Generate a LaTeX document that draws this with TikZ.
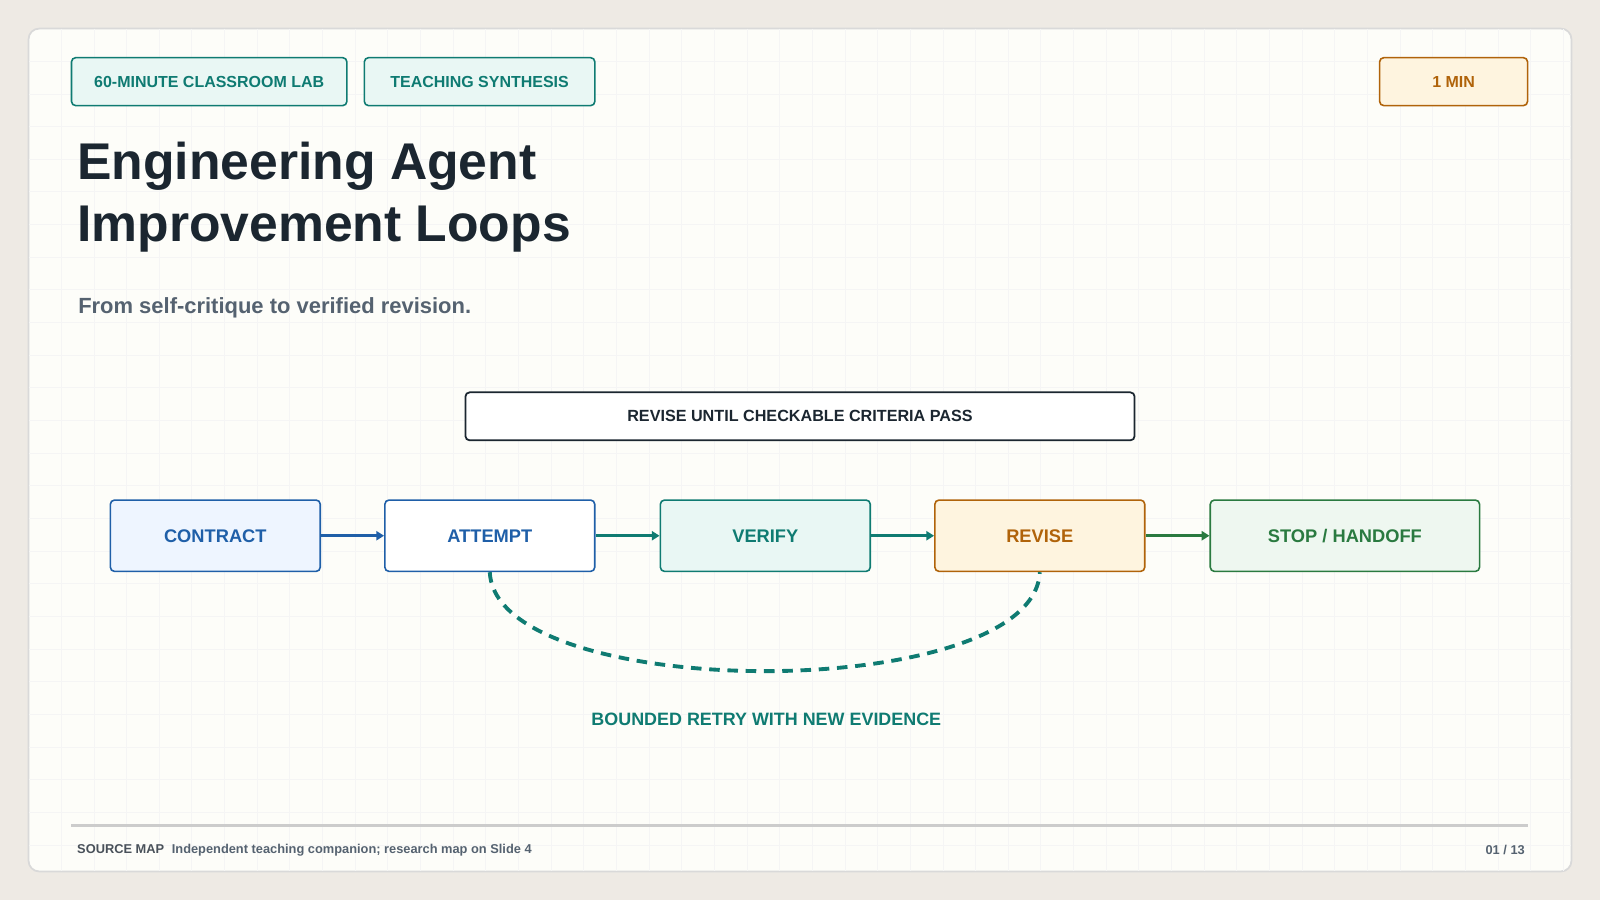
\documentclass[tikz,border=0pt]{standalone}
\usepackage{fontspec}
\setmainfont{Liberation Sans}
\usetikzlibrary{positioning,arrows.meta}
\definecolor{paper}{HTML}{EEEAE4}
\definecolor{card}{HTML}{FDFDF9}
\definecolor{ink}{HTML}{1B2630}
\definecolor{subink}{HTML}{556270}
\definecolor{teal}{HTML}{0F7B72}
\definecolor{tealbg}{HTML}{E9F7F4}
\definecolor{blue}{HTML}{1F5FA8}
\definecolor{bluebg}{HTML}{EEF5FF}
\definecolor{orange}{HTML}{B0630A}
\definecolor{orangebg}{HTML}{FEF4DF}
\definecolor{green}{HTML}{2A7A40}
\definecolor{greenbg}{HTML}{EEF7F0}
\tikzset{
  tag/.style={draw=#1, line width=0.45pt, rounded corners=1.2pt, minimum height=0.48cm, font=\fontsize{4.55}{5}\selectfont\bfseries, text=#1},
  step/.style={draw=#1, line width=0.45pt, rounded corners=1.2pt, minimum width=2.1cm, minimum height=0.714cm, font=\fontsize{5.2}{6}\selectfont\bfseries, text=#1},
  flow/.style={-{Triangle[length=2.2pt,width=2.6pt]}, line width=0.9pt, draw=#1},
}
\begin{document}
\begin{tikzpicture}[x=0.010204cm, y=-0.010204cm]
  \useasboundingbox (0,0) rectangle (1568,882);
  \fill[paper] (0,0) rectangle (1568,882);
  \filldraw[fill=card, draw=black!15, line width=0.5pt, rounded corners=3pt] (28,28) rectangle (1540,854);
  % grid
  \begin{scope}
    \clip[rounded corners=3pt] (28,28) rectangle (1540,854);
    \foreach \gx in {60,92,...,1540} \draw[black!4, line width=0.2pt] (\gx,28) -- (\gx,854);
    \foreach \gy in {60,92,...,854} \draw[black!4, line width=0.2pt] (28,\gy) -- (1540,\gy);
  \end{scope}

  % tags
  \node[tag=teal, fill=tealbg, minimum width=2.755cm] (lab) at (205,80) {60-MINUTE CLASSROOM LAB};
  \node[tag=teal, fill=tealbg, minimum width=2.306cm] (synth) at (470,80) {TEACHING SYNTHESIS};
  \node[tag=orange, fill=orangebg, minimum width=1.48cm] (time) at (1424.5,80) {1 MIN};

  % title
  \node[anchor=north west, align=left, text=ink, font=\fontsize{14.7}{17.4}\selectfont\bfseries, inner sep=0pt] (title) at (75,139) {Engineering Agent\\Improvement Loops};
  \node[anchor=west, text=subink, font=\fontsize{6.25}{7}\selectfont\bfseries, inner sep=0pt] (sub) at (76,302) {From self-critique to verified revision.};

  % banner
  \node[draw=ink, fill=white, line width=0.5pt, rounded corners=1.2pt, minimum width=6.694cm, minimum height=0.48cm, font=\fontsize{4.6}{5}\selectfont\bfseries, text=ink] (goal) at (784,408) {REVISE UNTIL CHECKABLE CRITERIA PASS};

  % steps
  \node[step=blue, fill=bluebg] (contract) at (211,525) {CONTRACT};
  \node[step=blue, fill=white] (attempt) at (480,525) {ATTEMPT};
  \node[step=teal, fill=tealbg] (verify) at (750,525) {VERIFY};
  \node[step=orange, fill=orangebg] (revise) at (1019,525) {REVISE};
  \node[step=green, fill=greenbg, minimum width=2.694cm] (stop) at (1318,525) {STOP / HANDOFF};

  \draw[flow=blue] (contract) -- (attempt);
  \draw[flow=teal] (attempt) -- (verify);
  \draw[flow=teal] (verify) -- (revise);
  \draw[flow=green] (revise) -- (stop);

  % retry loop
  \draw[teal, line width=1.1pt, dash pattern=on 3pt off 2.2pt] (attempt.south) .. controls (486,690) and (1013,690) .. (revise.south);
  \node[text=teal, font=\fontsize{5.1}{6}\selectfont\bfseries] (retry) at (751,705) {BOUNDED RETRY WITH NEW EVIDENCE};

  % footer
  \coordinate (fl) at (70,809);
  \coordinate (fr) at (1497,809);
  \draw[black!20, line width=0.6pt] (fl) -- (fr);
  \node[anchor=west, inner sep=0pt, font=\fontsize{3.65}{4}\selectfont\bfseries, text=subink] (src) at (75,833) {\textcolor{ink!80}{SOURCE MAP}\hspace{0.6em}Independent teaching companion; research map on Slide 4};
  \node[anchor=east, inner sep=0pt, font=\fontsize{3.65}{4}\selectfont\bfseries, text=subink] (page) at (1495,833) {01 / 13};
\end{tikzpicture}
\end{document}
